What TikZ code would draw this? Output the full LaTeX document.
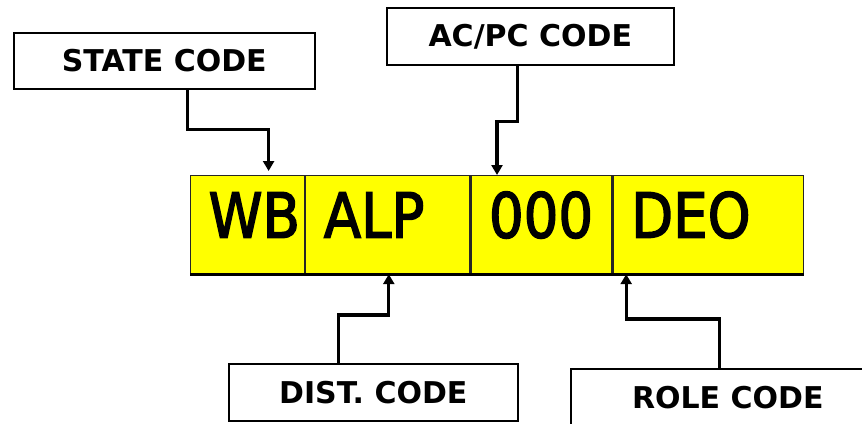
\documentclass[tikz,border=0pt]{standalone}
\usepackage{fontspec}
\setmainfont{DejaVu Sans}
\newfontfamily\codefont[FakeBold=2.6]{DejaVu Sans}
\usepackage{graphicx}
\usepackage{tikz}
\usetikzlibrary{arrows.meta, positioning, calc}

\definecolor{codeyellow}{RGB}{255,255,0}
\newcommand{\bigcode}[1]{\scalebox{0.88}[1]{\codefont\fontsize{31}{31}\selectfont #1}}

\begin{document}
\begin{tikzpicture}[
    x=0.5pt, y=-0.5pt,
    lbox/.style={draw, line width=0.8pt, fill=white, anchor=north west, inner sep=0pt, font=\fontsize{15}{15}\selectfont\bfseries},
    cell/.style={draw=black!85, line width=0.6pt, fill=codeyellow, anchor=north west, inner xsep=9pt, inner ysep=0pt,
                 text width=#1, align=left, text height=31pt, text depth=18pt},
    arr/.style={-{Triangle[length=5pt, width=5.5pt]}, line width=1.6pt},
]
\useasboundingbox (0,0) rectangle (862,423);

% Code bar
\node[cell=39pt]   (wb)  at (190,175) {\bigcode{WB}};
\node[cell=64pt]   (alp) at (wb.north east)  {\bigcode{ALP}};
\node[cell=52.5pt] (num) at (alp.north east) {\bigcode{000}};
\node[cell=77pt]   (deo) at (num.north east) {\bigcode{DEO}};
\draw[line width=1.6pt] (wb.south west) -- (deo.south east);

% Labels above
\node[lbox, minimum width=150.5pt, minimum height=28pt]   (state) at (13,32) {STATE CODE};
\node[lbox, minimum width=143.5pt, minimum height=28.5pt] (acpc)  at (386,7) {AC/PC CODE};

% Labels below
\node[lbox, minimum width=144.5pt, minimum height=28.5pt] (dist) at (228,363) {DIST.\ CODE};
\node[lbox, minimum width=157pt,   minimum height=28.5pt] (role) at (570,368) {ROLE CODE};

% Connectors
\draw[arr] ([xshift=11.75pt]state.south) -- ++(0,40) -| ([xshift=10.5pt, yshift=2pt]wb.north);
\draw[arr] ([xshift=-6.25pt]acpc.south) -- ++(0,56) -| ([xshift=-22.25pt]num.north);
\draw[arr] ([xshift=-17.25pt]dist.north) -- ++(0,-48) -| ([xshift=0.5pt]alp.south);
\draw[arr] ([xshift=-4pt]role.north) -- ++(0,-49) -| ([xshift=-41pt]deo.south);

\end{tikzpicture}
\end{document}
